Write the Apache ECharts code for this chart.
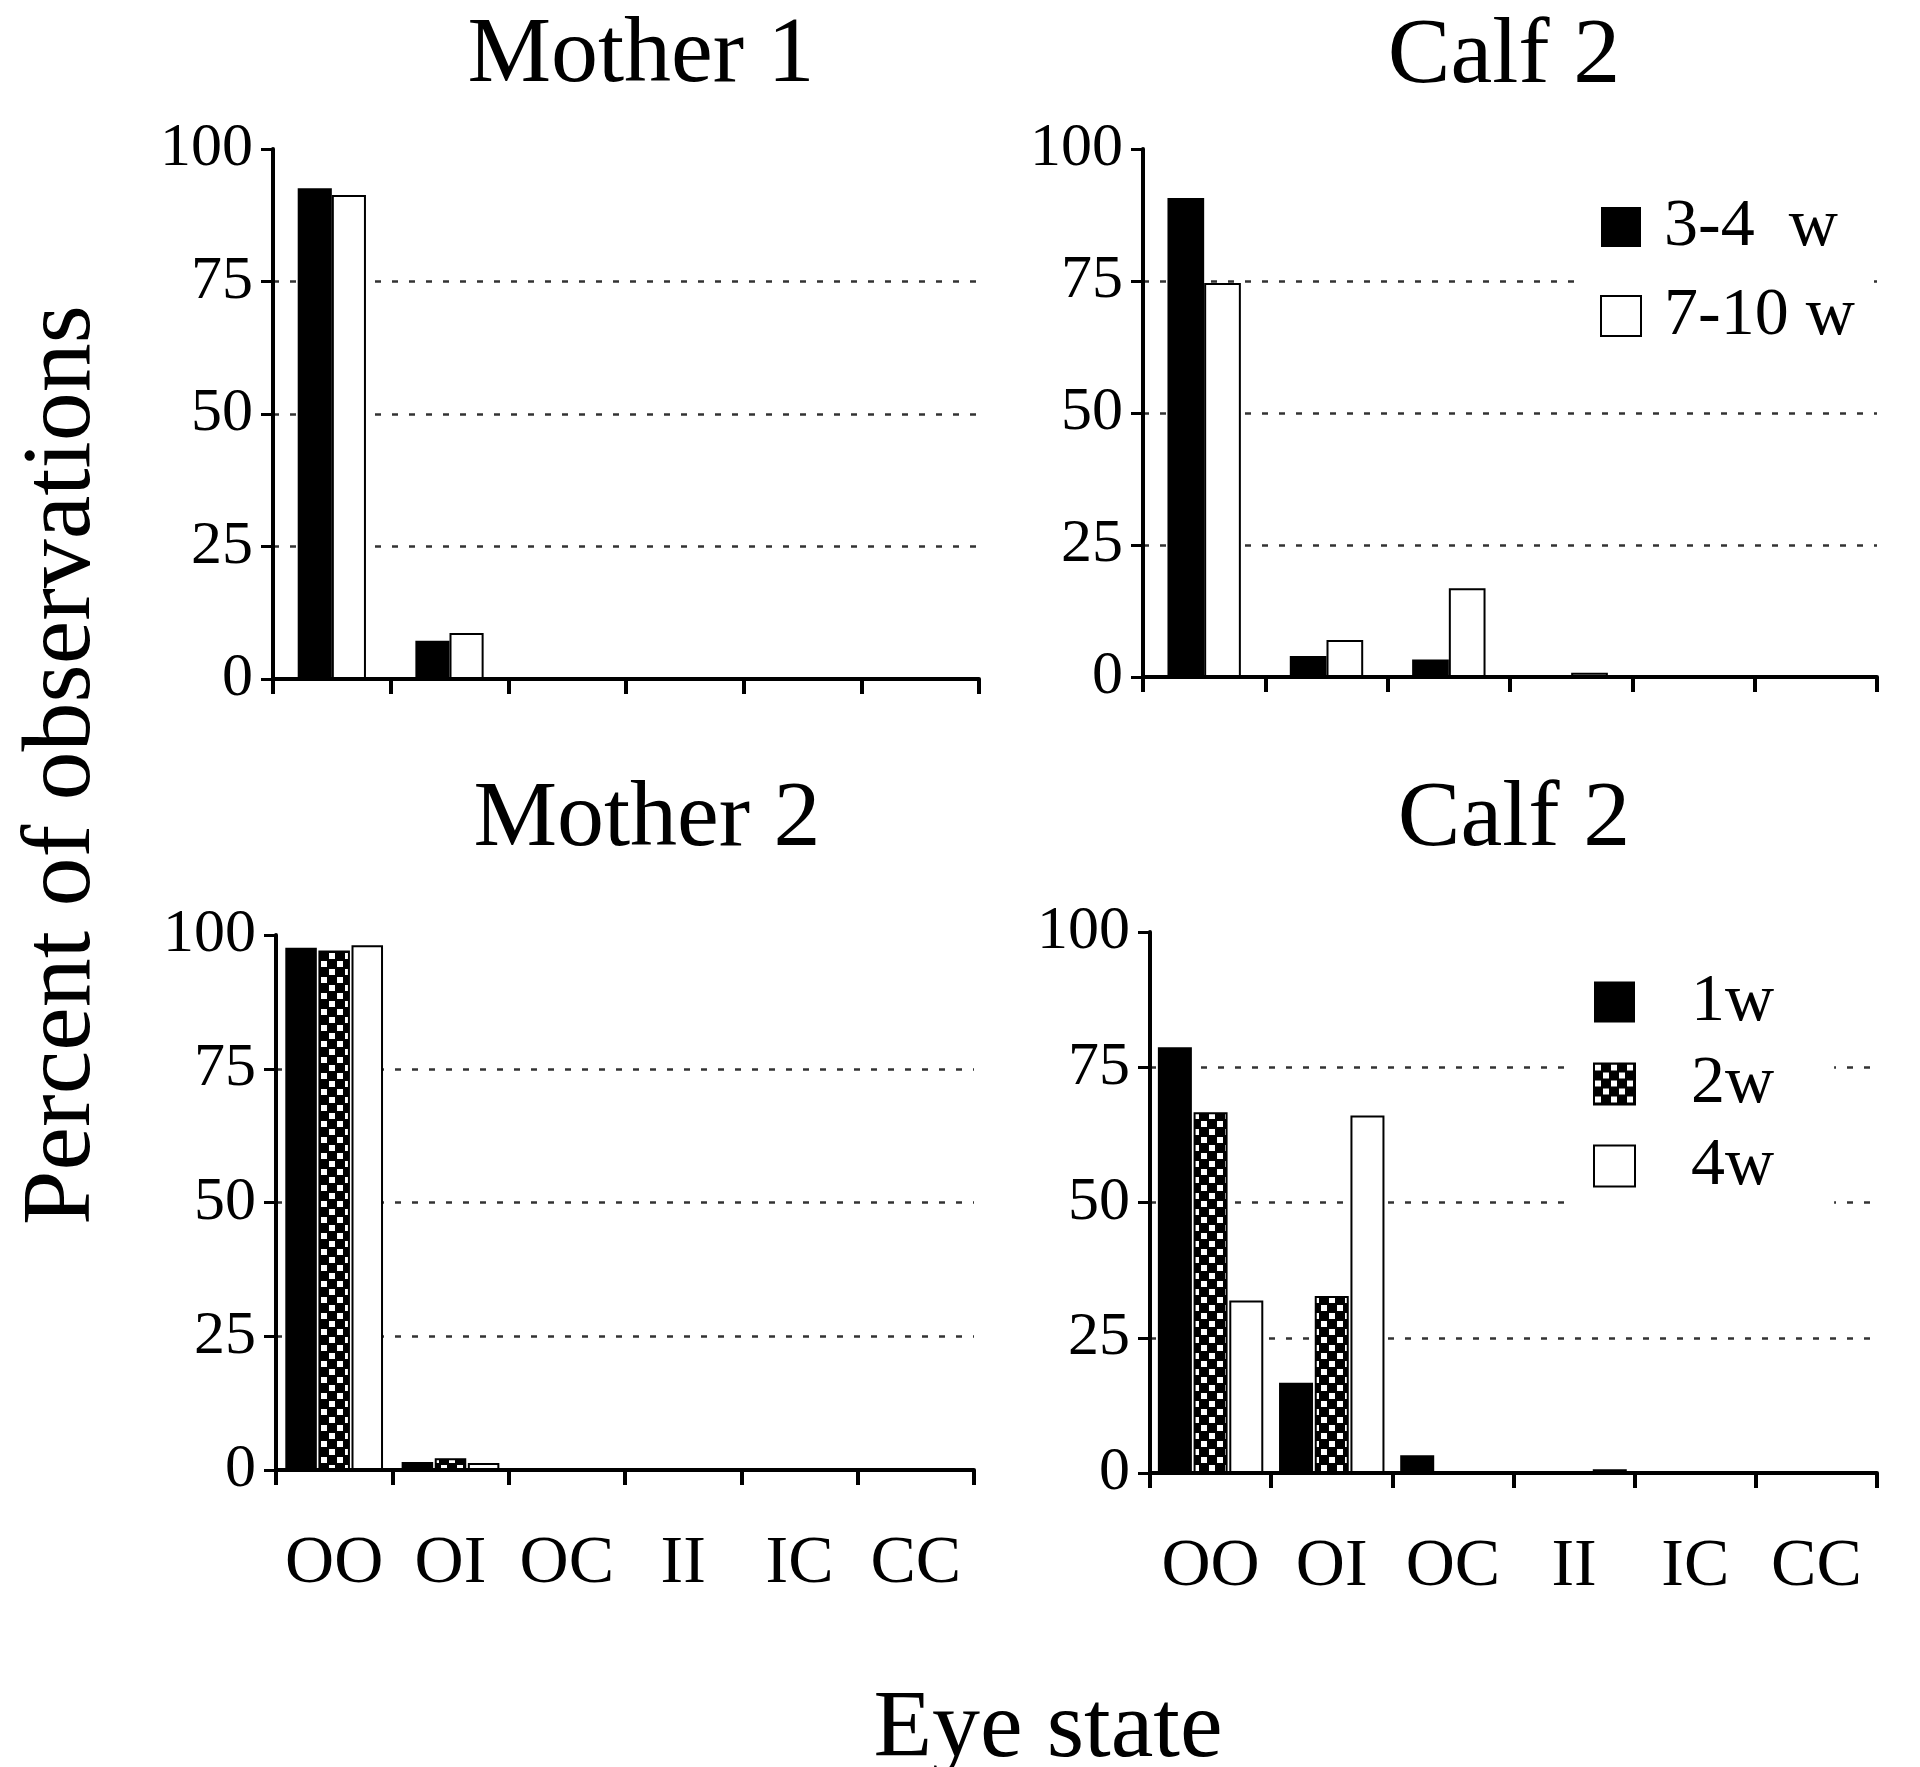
<!DOCTYPE html>
<html>
<head>
<meta charset="utf-8">
<script src="https://cdn.jsdelivr.net/npm/echarts@6/dist/echarts.min.js"></script>
<style>
  html, body { margin: 0; padding: 0; background: #fff; }
  #chart { width: 1920px; height: 1767px; }
</style>
</head>
<body>
<div id="chart"></div>
<script>
// eye state categories, shared by all four panels
const eyeStates = ['OO', 'OI', 'OC', 'II', 'IC', 'CC'];
const yTicks = [0, 25, 50, 75, 100];

// top row: age ranges
const ageTop = ['3-4  w', '7-10 w'];
const mother1Early = [92.6, 7.2, 0, 0, 0, 0];
const mother1Late = [91.3, 8.7, 0, 0, 0, 0];
const calfTopEarly = [90.7, 4.0, 3.3, 0, 0, 0];
const calfTopLate = [74.6, 7.0, 16.8, 0.8, 0, 0];

// bottom row: weeks
const ageBottom = ['1w', '2w', '4w'];
const mother2W1 = [97.6, 1.5, 0, 0, 0, 0];
const mother2W2 = [97.1, 2.2, 0, 0, 0, 0];
const mother2W4 = [98.1, 1.3, 0, 0, 0, 0];
const calfBotW1 = [78.7, 16.7, 3.3, 0, 0, 0];
const calfBotW2 = [66.7, 32.7, 0, 0, 0, 0];
const calfBotW4 = [31.9, 66.1, 0, 0.7, 0, 0];

const FONT = 'Liberation Serif';

// checkerboard fill for the 2w bars
const checker = document.createElement('canvas');
checker.width = 16;
checker.height = 16;
const cx = checker.getContext('2d');
cx.fillStyle = '#000';
cx.fillRect(0, 0, 16, 16);
cx.fillStyle = '#fff';
cx.fillRect(1, 1, 6, 6);
cx.fillRect(9, 9, 6, 6);

const styles = {
  black: { color: '#000' },
  white: { color: '#fff', borderColor: '#000', borderWidth: 2 },
  check: { color: { image: checker, repeat: 'repeat' }, borderColor: '#000', borderWidth: 2 }
};

// grid boxes: left, top, width, height
const grids = [
  { left: 273, top: 149, width: 706, height: 530 },
  { left: 1143, top: 149, width: 734, height: 528 },
  { left: 276, top: 935, width: 698, height: 535 },
  { left: 1150, top: 932, width: 727, height: 541 }
];

const xAxes = grids.map((g, i) => ({
  type: 'category',
  gridIndex: i,
  data: eyeStates,
  axisLine: { lineStyle: { color: '#000', width: 4 } },
  axisTick: { show: true, length: 15, lineStyle: { color: '#000', width: 4 } },
  axisLabel: {
    show: i >= 2,
    interval: 0,
    color: '#000',
    fontFamily: FONT,
    fontSize: 68,
    margin: 60
  }
}));

const yAxes = grids.map((g, i) => ({
  type: 'value',
  gridIndex: i,
  min: yTicks[0],
  max: yTicks[yTicks.length - 1],
  interval: 25,
  axisLine: { show: true, lineStyle: { color: '#000', width: 4 } },
  axisTick: { show: true, length: 12, lineStyle: { color: '#000', width: 3 } },
  axisLabel: { color: '#000', fontFamily: FONT, fontSize: 62, margin: 20 },
  splitLine: {
    show: true,
    showMinLine: false,
    showMaxLine: false,
    lineStyle: { color: '#333', width: 2.5, type: [6, 11] }
  }
}));

function bar(name, data, idx, style, catGap, gap) {
  return {
    type: 'bar',
    name: name,
    data: data,
    xAxisIndex: idx,
    yAxisIndex: idx,
    itemStyle: style,
    barCategoryGap: catGap,
    barGap: gap,
    emphasis: { disabled: true }
  };
}

const series = [
  bar(ageTop[0], mother1Early, 0, styles.black, '42%', '0%'),
  bar(ageTop[1], mother1Late, 0, styles.white, '42%', '0%'),
  bar(ageTop[0], calfTopEarly, 1, styles.black, '40%', '0%'),
  bar(ageTop[1], calfTopLate, 1, styles.white, '40%', '0%'),
  bar(ageBottom[0], mother2W1, 2, styles.black, '16%', '5%'),
  bar(ageBottom[1], mother2W2, 2, styles.check, '16%', '5%'),
  bar(ageBottom[2], mother2W4, 2, styles.white, '16%', '5%'),
  bar(ageBottom[0], calfBotW1, 3, styles.black, '13%', '5%'),
  bar(ageBottom[1], calfBotW2, 3, styles.check, '13%', '5%'),
  bar(ageBottom[2], calfBotW4, 3, styles.white, '13%', '5%')
];

const legendText = { color: '#000', fontFamily: FONT, fontSize: 68, lineHeight: 68 };

const titleFont = { fontFamily: FONT, fontSize: 94, fill: '#000', align: 'center', verticalAlign: 'middle' };
const titles = [
  { text: 'Mother 1', x: 641, y: 56 },
  { text: 'Calf 2', x: 1504, y: 57 },
  { text: 'Mother 2', x: 647, y: 820 },
  { text: 'Calf 2', x: 1514, y: 820 }
];

const chart = echarts.init(document.getElementById('chart'));
chart.setOption({
  animation: false,
  backgroundColor: '#fff',
  grid: grids,
  xAxis: xAxes,
  yAxis: yAxes,
  legend: [
    {
      data: ageTop,
      orient: 'vertical',
      left: 1580,
      top: 187,
      padding: [6, 12, 6, 20],
      itemWidth: 40,
      itemHeight: 40,
      itemGap: 21,
      icon: 'rect',
      backgroundColor: '#fff',
      selectedMode: false,
      textStyle: Object.assign({ padding: [0, 0, 0, 18] }, legendText)
    },
    {
      data: ageBottom,
      orient: 'vertical',
      left: 1565,
      top: 962,
      padding: [6, 60, 6, 28],
      itemWidth: 41,
      itemHeight: 41,
      itemGap: 14,
      icon: 'rect',
      backgroundColor: '#fff',
      selectedMode: false,
      textStyle: Object.assign({ padding: [0, 0, 0, 51] }, legendText)
    }
  ],
  graphic: titles.map(t => ({
    type: 'text',
    x: t.x,
    y: t.y,
    style: Object.assign({ text: t.text }, titleFont)
  })).concat([
    {
      type: 'text',
      x: 63,
      y: 765,
      rotation: Math.PI / 2,
      style: Object.assign({ text: 'Percent of observations' }, titleFont, { fontSize: 98 })
    },
    {
      type: 'text',
      x: 1048,
      y: 1731,
      style: Object.assign({ text: 'Eye state' }, titleFont, { fontSize: 96 })
    }
  ]),
  series: series
});
</script>
</body>
</html>
